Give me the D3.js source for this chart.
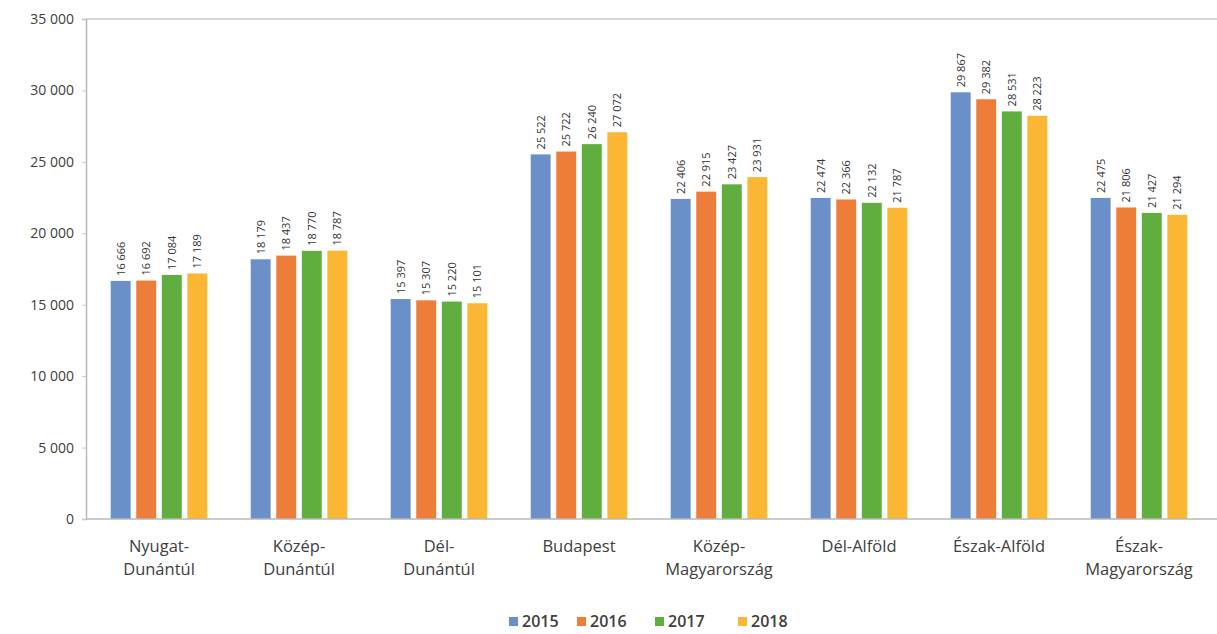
<!DOCTYPE html>
<html><head><meta charset="utf-8">
<script src="https://cdn.jsdelivr.net/npm/d3@7"></script>
<style>
body{margin:0;background:#fff;}
text{font-family:"Open Sans","Noto Sans",sans-serif;}
</style></head>
<body>
<svg id="c" width="1217" height="634"></svg>
<script>
const categories = [["Nyugat-","Dunántúl"],["Közép-","Dunántúl"],["Dél-","Dunántúl"],["Budapest"],["Közép-","Magyarország"],["Dél-Alföld"],["Észak-Alföld"],["Észak-","Magyarország"]];
const years = ["2015","2016","2017","2018"];
const v2015 = [16666,18179,15397,25522,22406,22474,29867,22475];
const v2016 = [16692,18437,15307,25722,22915,22366,29382,21806];
const v2017 = [17084,18770,15220,26240,23427,22132,28531,21427];
const v2018 = [17189,18787,15101,27072,23931,21787,28223,21294];
const series = [v2015,v2016,v2017,v2018];
const colors = ["#6a8fc9","#ee7d3a","#5fae3f","#fbb733"];
const yTicks = [0,5000,10000,15000,20000,25000,30000,35000];

(function(){
const svg = d3.select("#c");
const mLeft = 89, mRight = 1209, mTop = 19, mBottom = 519;
const fmt = v => d3.format(",")(v).replace(/,/g," ");

const x0 = d3.scaleBand().domain(d3.range(categories.length)).range([mLeft,mRight]).paddingInner(0.31).paddingOuter(0.155);
const x1 = d3.scaleBand().domain(years).range([0,x0.bandwidth()]).paddingInner(0.22);
const y = d3.scaleLinear().domain([0,35000]).range([mBottom,mTop]);

svg.append("line").attr("x1",86).attr("x2",1217).attr("y1",mTop).attr("y2",mTop).attr("stroke","#c8c8c8").attr("stroke-width",1.5);

const ya = svg.append("g").attr("transform","translate(86,0)")
  .call(d3.axisLeft(y).tickValues(yTicks).tickFormat(fmt).tickSize(4).tickPadding(8));
ya.select(".domain").attr("stroke","#b8b8b8").attr("stroke-width",1.5);
ya.selectAll(".tick line").attr("stroke","#c8c8c8");
ya.selectAll(".tick text").attr("font-size",14).attr("fill","#404040").attr("font-family","'Open Sans','Noto Sans',sans-serif");

const g = svg.append("g");
categories.forEach((c,i)=>{
  series.forEach((s,j)=>{
    const bx = x0(i)+x1(years[j]);
    g.append("rect").attr("x",bx).attr("y",y(s[i])).attr("width",x1.bandwidth()).attr("height",y(0)-y(s[i])).attr("fill",colors[j]);
    const tx = bx + x1.bandwidth()/2 + 4, ty = y(s[i]) - 5;
    g.append("text").attr("transform",`translate(${tx},${ty}) rotate(-90)`)
      .attr("font-size",11).attr("fill","#333").text(fmt(s[i]));
  });
});

svg.append("line").attr("x1",86).attr("x2",1217).attr("y1",mBottom).attr("y2",mBottom).attr("stroke","#b8b8b8").attr("stroke-width",1.5);

categories.forEach((c,i)=>{
  const cx = x0(i)+x0.bandwidth()/2;
  const t = svg.append("text").attr("x",cx).attr("y",552).attr("text-anchor","middle").attr("font-size",16.5).attr("fill","#404040");
  c.forEach((line,k)=>t.append("tspan").attr("x",cx).attr("dy",k?23:0).text(line));
});

const lg = svg.append("g");
const lx = [509,577,655,738];
years.forEach((yr,j)=>{
  lg.append("rect").attr("x",lx[j]).attr("y",617).attr("width",9).attr("height",9).attr("fill",colors[j]);
  lg.append("text").attr("x",lx[j]+13).attr("y",627).attr("font-size",16).attr("font-weight",600).attr("fill","#404040").text(yr);
});
})();
</script>
</body></html>
